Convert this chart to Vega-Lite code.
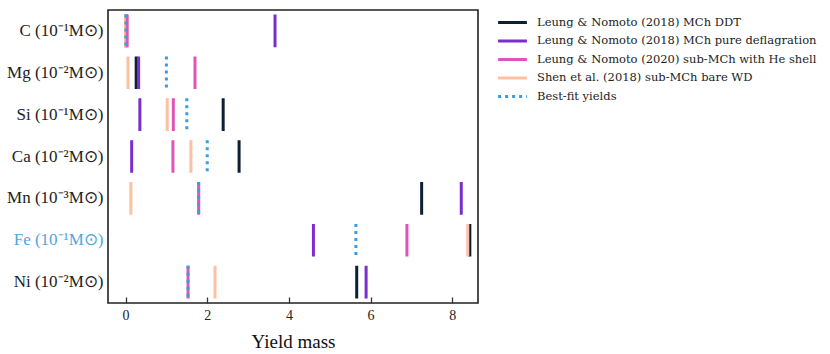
{
  "$schema": "https://vega.github.io/schema/vega-lite/v6.json",
  "autosize": {"type": "none"},
  "padding": {"left": 108, "top": 10, "right": 352, "bottom": 51},
  "width": 370,
  "height": 293,
  "config": {
    "view": {"stroke": "#222", "strokeWidth": 1.6},
    "font": "Liberation Serif"
  },
  "data": {
    "values": [
      {"element": "C (10⁻¹M⊙)", "model": "Leung & Nomoto (2018) MCh DDT", "value": 0.01},
      {"element": "C (10⁻¹M⊙)", "model": "Leung & Nomoto (2018) MCh pure deflagration", "value": 3.66},
      {"element": "C (10⁻¹M⊙)", "model": "Shen et al. (2018) sub-MCh bare WD", "value": 0.0},
      {"element": "C (10⁻¹M⊙)", "model": "Leung & Nomoto (2020) sub-MCh with He shell", "value": 0.04},
      {"element": "C (10⁻¹M⊙)", "model": "Best-fit yields", "value": 0.01},

      {"element": "Mg (10⁻²M⊙)", "model": "Leung & Nomoto (2018) MCh DDT", "value": 0.26},
      {"element": "Mg (10⁻²M⊙)", "model": "Leung & Nomoto (2018) MCh pure deflagration", "value": 0.32},
      {"element": "Mg (10⁻²M⊙)", "model": "Leung & Nomoto (2020) sub-MCh with He shell", "value": 1.70},
      {"element": "Mg (10⁻²M⊙)", "model": "Shen et al. (2018) sub-MCh bare WD", "value": 0.06},
      {"element": "Mg (10⁻²M⊙)", "model": "Best-fit yields", "value": 1.0},

      {"element": "Si (10⁻¹M⊙)", "model": "Leung & Nomoto (2018) MCh DDT", "value": 2.39},
      {"element": "Si (10⁻¹M⊙)", "model": "Leung & Nomoto (2018) MCh pure deflagration", "value": 0.35},
      {"element": "Si (10⁻¹M⊙)", "model": "Leung & Nomoto (2020) sub-MCh with He shell", "value": 1.17},
      {"element": "Si (10⁻¹M⊙)", "model": "Shen et al. (2018) sub-MCh bare WD", "value": 1.02},
      {"element": "Si (10⁻¹M⊙)", "model": "Best-fit yields", "value": 1.50},

      {"element": "Ca (10⁻²M⊙)", "model": "Leung & Nomoto (2018) MCh DDT", "value": 2.78},
      {"element": "Ca (10⁻²M⊙)", "model": "Leung & Nomoto (2018) MCh pure deflagration", "value": 0.15},
      {"element": "Ca (10⁻²M⊙)", "model": "Leung & Nomoto (2020) sub-MCh with He shell", "value": 1.16},
      {"element": "Ca (10⁻²M⊙)", "model": "Shen et al. (2018) sub-MCh bare WD", "value": 1.60},
      {"element": "Ca (10⁻²M⊙)", "model": "Best-fit yields", "value": 2.0},

      {"element": "Mn (10⁻³M⊙)", "model": "Leung & Nomoto (2018) MCh DDT", "value": 7.25},
      {"element": "Mn (10⁻³M⊙)", "model": "Leung & Nomoto (2018) MCh pure deflagration", "value": 8.22},
      {"element": "Mn (10⁻³M⊙)", "model": "Leung & Nomoto (2020) sub-MCh with He shell", "value": 1.79},
      {"element": "Mn (10⁻³M⊙)", "model": "Shen et al. (2018) sub-MCh bare WD", "value": 0.13},
      {"element": "Mn (10⁻³M⊙)", "model": "Best-fit yields", "value": 1.79},

      {"element": "Fe (10⁻¹M⊙)", "model": "Leung & Nomoto (2018) MCh DDT", "value": 8.43},
      {"element": "Fe (10⁻¹M⊙)", "model": "Leung & Nomoto (2018) MCh pure deflagration", "value": 4.60},
      {"element": "Fe (10⁻¹M⊙)", "model": "Leung & Nomoto (2020) sub-MCh with He shell", "value": 6.89},
      {"element": "Fe (10⁻¹M⊙)", "model": "Shen et al. (2018) sub-MCh bare WD", "value": 8.38},
      {"element": "Fe (10⁻¹M⊙)", "model": "Best-fit yields", "value": 5.64},

      {"element": "Ni (10⁻²M⊙)", "model": "Leung & Nomoto (2018) MCh DDT", "value": 5.66},
      {"element": "Ni (10⁻²M⊙)", "model": "Leung & Nomoto (2018) MCh pure deflagration", "value": 5.89},
      {"element": "Ni (10⁻²M⊙)", "model": "Leung & Nomoto (2020) sub-MCh with He shell", "value": 1.53},
      {"element": "Ni (10⁻²M⊙)", "model": "Shen et al. (2018) sub-MCh bare WD", "value": 2.19},
      {"element": "Ni (10⁻²M⊙)", "model": "Best-fit yields", "value": 1.53}
    ]
  },
  "mark": {"type": "rule", "strokeWidth": 3, "strokeCap": "butt"},
  "encoding": {
    "x": {
      "field": "value", "type": "quantitative",
      "scale": {"domain": [-0.43, 8.63], "nice": false, "zero": false},
      "axis": {
        "title": "Yield mass", "values": [0, 2, 4, 6, 8], "grid": false, "domain": false,
        "tickSize": -6, "tickColor": "#333", "tickWidth": 1.3,
        "labelFontSize": 14, "labelColor": "#222", "labelPadding": 11,
        "titleFontSize": 19, "titleFontWeight": "normal", "titleColor": "#111", "titlePadding": 10
      }
    },
    "y": {
      "field": "element", "type": "nominal", "bandPosition": 0.11,
      "sort": ["C (10⁻¹M⊙)", "Mg (10⁻²M⊙)", "Si (10⁻¹M⊙)", "Ca (10⁻²M⊙)", "Mn (10⁻³M⊙)", "Fe (10⁻¹M⊙)", "Ni (10⁻²M⊙)"],
      "scale": {"type": "band", "paddingInner": 0, "paddingOuter": 0},
      "axis": {
        "title": null, "ticks": false, "domain": false, "grid": false,
        "labelFontSize": 17, "labelPadding": 5, "labelBaseline": "middle",
        "labelColor": {"condition": {"test": "indexof(datum.value, 'Fe') == 0", "value": "#4fa6de"}, "value": "#222"}
      }
    },
    "y2": {"field": "element", "bandPosition": 0.89},
    "color": {
      "field": "model", "type": "nominal",
      "scale": {
        "domain": ["Leung & Nomoto (2018) MCh DDT", "Leung & Nomoto (2018) MCh pure deflagration", "Leung & Nomoto (2020) sub-MCh with He shell", "Shen et al. (2018) sub-MCh bare WD", "Best-fit yields"],
        "range": ["#0d1f33", "#7a2ecf", "#df55b6", "#ffbfa3", "#3a9ce2"]
      },
      "legend": {
        "title": null, "orient": "none", "legendX": 395, "legendY": 3,
        "symbolType": "M-1.8,0H1.8", "symbolSize": 256, "symbolStrokeWidth": 3,
        "labelFont": "DejaVu Serif", "labelFontSize": 11.5, "labelColor": "#222", "labelOffset": 15, "rowPadding": 2.5, "labelLimit": 400
      }
    },
    "strokeDash": {
      "field": "model", "type": "nominal",
      "scale": {
        "domain": ["Leung & Nomoto (2018) MCh DDT", "Leung & Nomoto (2018) MCh pure deflagration", "Leung & Nomoto (2020) sub-MCh with He shell", "Shen et al. (2018) sub-MCh bare WD", "Best-fit yields"],
        "range": [[1, 0], [1, 0], [1, 0], [1, 0], [3, 4]]
      },
      "legend": null
    }
  }
}
